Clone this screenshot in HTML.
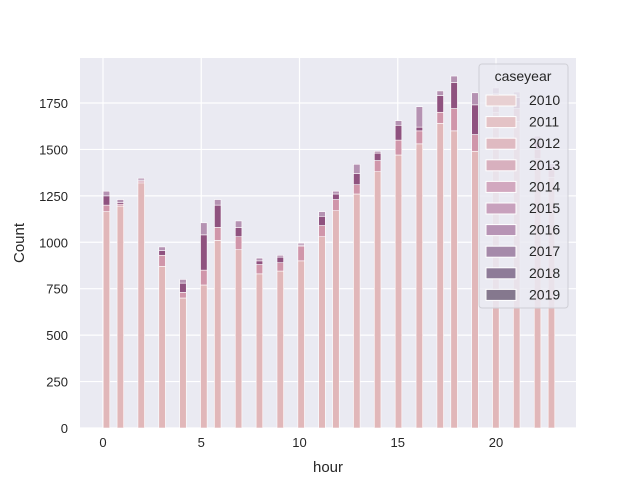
<!DOCTYPE html>
<html><head><meta charset="utf-8"><style>
body{margin:0;background:#fff;}
svg{display:block;font-family:"Liberation Sans","DejaVu Sans",sans-serif;}
</style></head><body>
<svg id="chart" width="640" height="480" viewBox="0 0 640 480">
<rect x="80" y="58" width="496" height="370" fill="#eaeaf2"/>
<g id="grid"></g><g id="bars"></g><g id="ticks"></g>
<text x="328" y="472" font-size="15" fill="#262626" text-anchor="middle">hour</text>
<text x="24" y="243" font-size="15" fill="#262626" text-anchor="middle" transform="rotate(-90 24 243)">Count</text>
<g id="legend"></g>
</svg>
<script>
const hours=[0,1,2,3,4,5,6,7,8,9,10,11,12,13,14,15,16,17,18,19,20,21,22,23];
const baseCounts=[1165,1195,1320,870,700,770,1010,960,830,845,900,1030,1170,1260,1380,1470,1530,1640,1600,1490,1700,1650,1450,1350];
const midCounts=[1200,1205,1330,930,730,850,1080,1030,880,890,980,1090,1230,1310,1440,1550,1600,1700,1720,1580,1750,1720,1500,1390];
const darkCounts=[1250,1215,1335,955,780,1040,1200,1080,900,920,985,1140,1260,1370,1480,1630,1620,1790,1860,1740,1800,1780,1540,1410];
const totalCounts=[1275,1230,1345,975,800,1105,1230,1115,915,930,995,1165,1275,1420,1490,1655,1730,1815,1895,1805,1831,1809,1572,1422];
const yTicks=[0,250,500,750,1000,1250,1500,1750];
const xTicks=[0,5,10,15,20];
const years=["2010","2011","2012","2013","2014","2015","2016","2017","2018","2019"];
const yearColors=["#e8d0d2","#e4c3c6","#dfbac1","#d8b0be","#d2a8bf","#c8a1bd","#b794b5","#a58aaa","#8e7b98","#85788e"];
const NS="http://www.w3.org/2000/svg";
const xs=h=>103+h*19.65;
const ys=v=>428-v*(46.43/250);
const binW=23/65;
function binCenter(h){let b=Math.min(64,Math.floor(h/binW));return (b+0.5)*binW;}
function mk(tag,attrs,parent){const e=document.createElementNS(NS,tag);for(const k in attrs)e.setAttribute(k,attrs[k]);parent.appendChild(e);return e;}
const grid=document.getElementById('grid'),bars=document.getElementById('bars'),ticks=document.getElementById('ticks');
yTicks.forEach(t=>{
 const l=mk('line',{x1:80,x2:576,y1:ys(t),y2:ys(t),stroke:'#fff','stroke-width':1.2},grid);
 
 
 const tx=mk('text',{x:68,y:ys(t)+5,'font-size':13,fill:'#262626','text-anchor':'end'},ticks);
 tx.textContent=t;
 
 
});
xTicks.forEach(t=>{
 const l=mk('line',{x1:xs(t),x2:xs(t),y1:58,y2:428,stroke:'#fff','stroke-width':1.2},grid);
 
 
 const tx=mk('text',{x:xs(t),y:447,'font-size':13,fill:'#262626','text-anchor':'middle'},ticks);
 tx.textContent=t;
 
 
});
const bw=binW*19.65*0.95;
hours.forEach((h,i)=>{
 const cx=xs(binCenter(h));
 const g=mk('g',{},bars);
 
 
 const segs=[[0,baseCounts[i],'#e1b7b9'],[baseCounts[i],midCounts[i],'#d096aa'],[midCounts[i],darkCounts[i],'#8f527f'],[darkCounts[i],totalCounts[i],'#b592b2']];
 segs.forEach(s=>{
  if(s[1]<=s[0])return;
  const r=mk('rect',{x:cx-bw/2,y:ys(s[1]),width:bw,height:ys(s[0])-ys(s[1]),fill:s[2],stroke:'#fff','stroke-width':0.6},g);
  
  
 });
});
const lg=document.getElementById('legend');
mk('rect',{x:479,y:64,width:89,height:244,rx:3,fill:'rgba(234,234,242,0.85)',stroke:'#cfcfd6','stroke-width':1},lg);
const tt=mk('text',{x:523,y:81,'font-size':14,fill:'#262626','text-anchor':'middle'},lg);
tt.textContent='caseyear';


years.forEach((y,i)=>{
 const yy=100+i*21.6;
 const g=mk('g',{},lg);
 
 
 mk('rect',{x:486,y:yy-5,width:30,height:11,fill:yearColors[i],stroke:'#fff','stroke-width':1},g);
 const t=mk('text',{x:529,y:yy+5,'font-size':14,fill:'#262626'},g);
 t.textContent=y;
});
</script>
</body></html>
